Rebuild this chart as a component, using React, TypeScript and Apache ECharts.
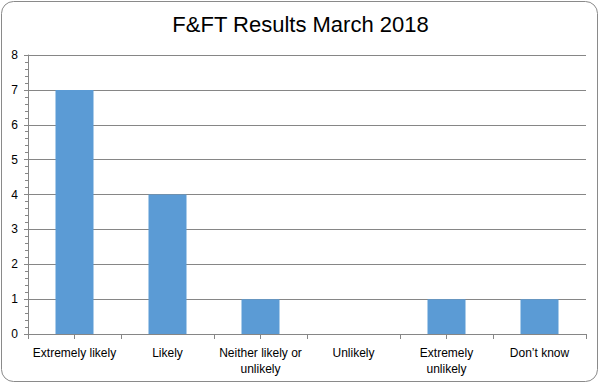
import React, { useEffect, useRef } from "react";
import * as echarts from "echarts";

const title = "F&FT Results March 2018";
const categories = [
  "Extremely likely",
  "Likely",
  "Neither likely or\nunlikely",
  "Unlikely",
  "Extremely\nunlikely",
  "Don\u2019t know",
];
const values = [7, 4, 1, 0, 1, 1];
const yTicks = { min: 0, max: 8, interval: 1 };

export default function App() {
  const ref = useRef<HTMLDivElement>(null);
  useEffect(() => {
    if (!ref.current) return;
    const chart = echarts.init(ref.current, null, { renderer: "svg" });
    const axisColor = "#868686";
    chart.setOption({
      animation: false,
      backgroundColor: "#ffffff",
      title: {
        text: title,
        left: "center",
        top: 8,
        textStyle: {
          fontFamily: "Liberation Sans",
          fontSize: 22,
          fontWeight: "normal",
          color: "#000",
        },
      },
      graphic: [
        {
          type: "rect",
          shape: { x: 1.5, y: 1.5, width: 596, height: 380, r: 12 },
          style: { fill: "none", stroke: "#8a8a8a", lineWidth: 1 },
          silent: true,
          z: 100,
        },
      ],
      grid: { left: 28, right: 15, top: 55, bottom: 51, containLabel: false },
      xAxis: [
        {
          type: "category",
          data: categories,
          axisLine: { show: true, lineStyle: { color: axisColor } },
          axisTick: { show: true, alignWithLabel: false, length: 5, lineStyle: { color: axisColor } },
          axisLabel: {
            color: "#000",
            fontFamily: "Liberation Sans",
            fontSize: 12,
            margin: 11,
            lineHeight: 16,
            interval: 0,
          },
        },
        {
          type: "category",
          data: categories,
          position: "bottom",
          axisLine: { show: false },
          axisTick: { show: true, alignWithLabel: true, length: 5, lineStyle: { color: axisColor } },
          axisLabel: { show: false },
        },
      ],
      yAxis: {
        type: "value",
        min: yTicks.min,
        max: yTicks.max,
        interval: yTicks.interval,
        axisLine: { show: true, lineStyle: { color: axisColor } },
        axisTick: { show: true, length: 4, lineStyle: { color: axisColor } },
        minorTick: { show: true, splitNumber: 5, length: 3, lineStyle: { color: axisColor } },
        splitLine: { show: true, lineStyle: { color: axisColor, width: 1 } },
        axisLabel: {
          color: "#000",
          fontFamily: "Liberation Sans",
          fontSize: 12,
          margin: 10,
        },
      },
      series: [
        {
          type: "bar",
          data: values,
          barWidth: 38,
          itemStyle: { color: "#5b9bd5" },
        },
      ],
    });
    return () => chart.dispose();
  }, []);
  return (
    <div
      ref={ref}
      style={{ position: "fixed", left: 0, top: 0, width: 601, height: 385 }}
    />
  );
}
